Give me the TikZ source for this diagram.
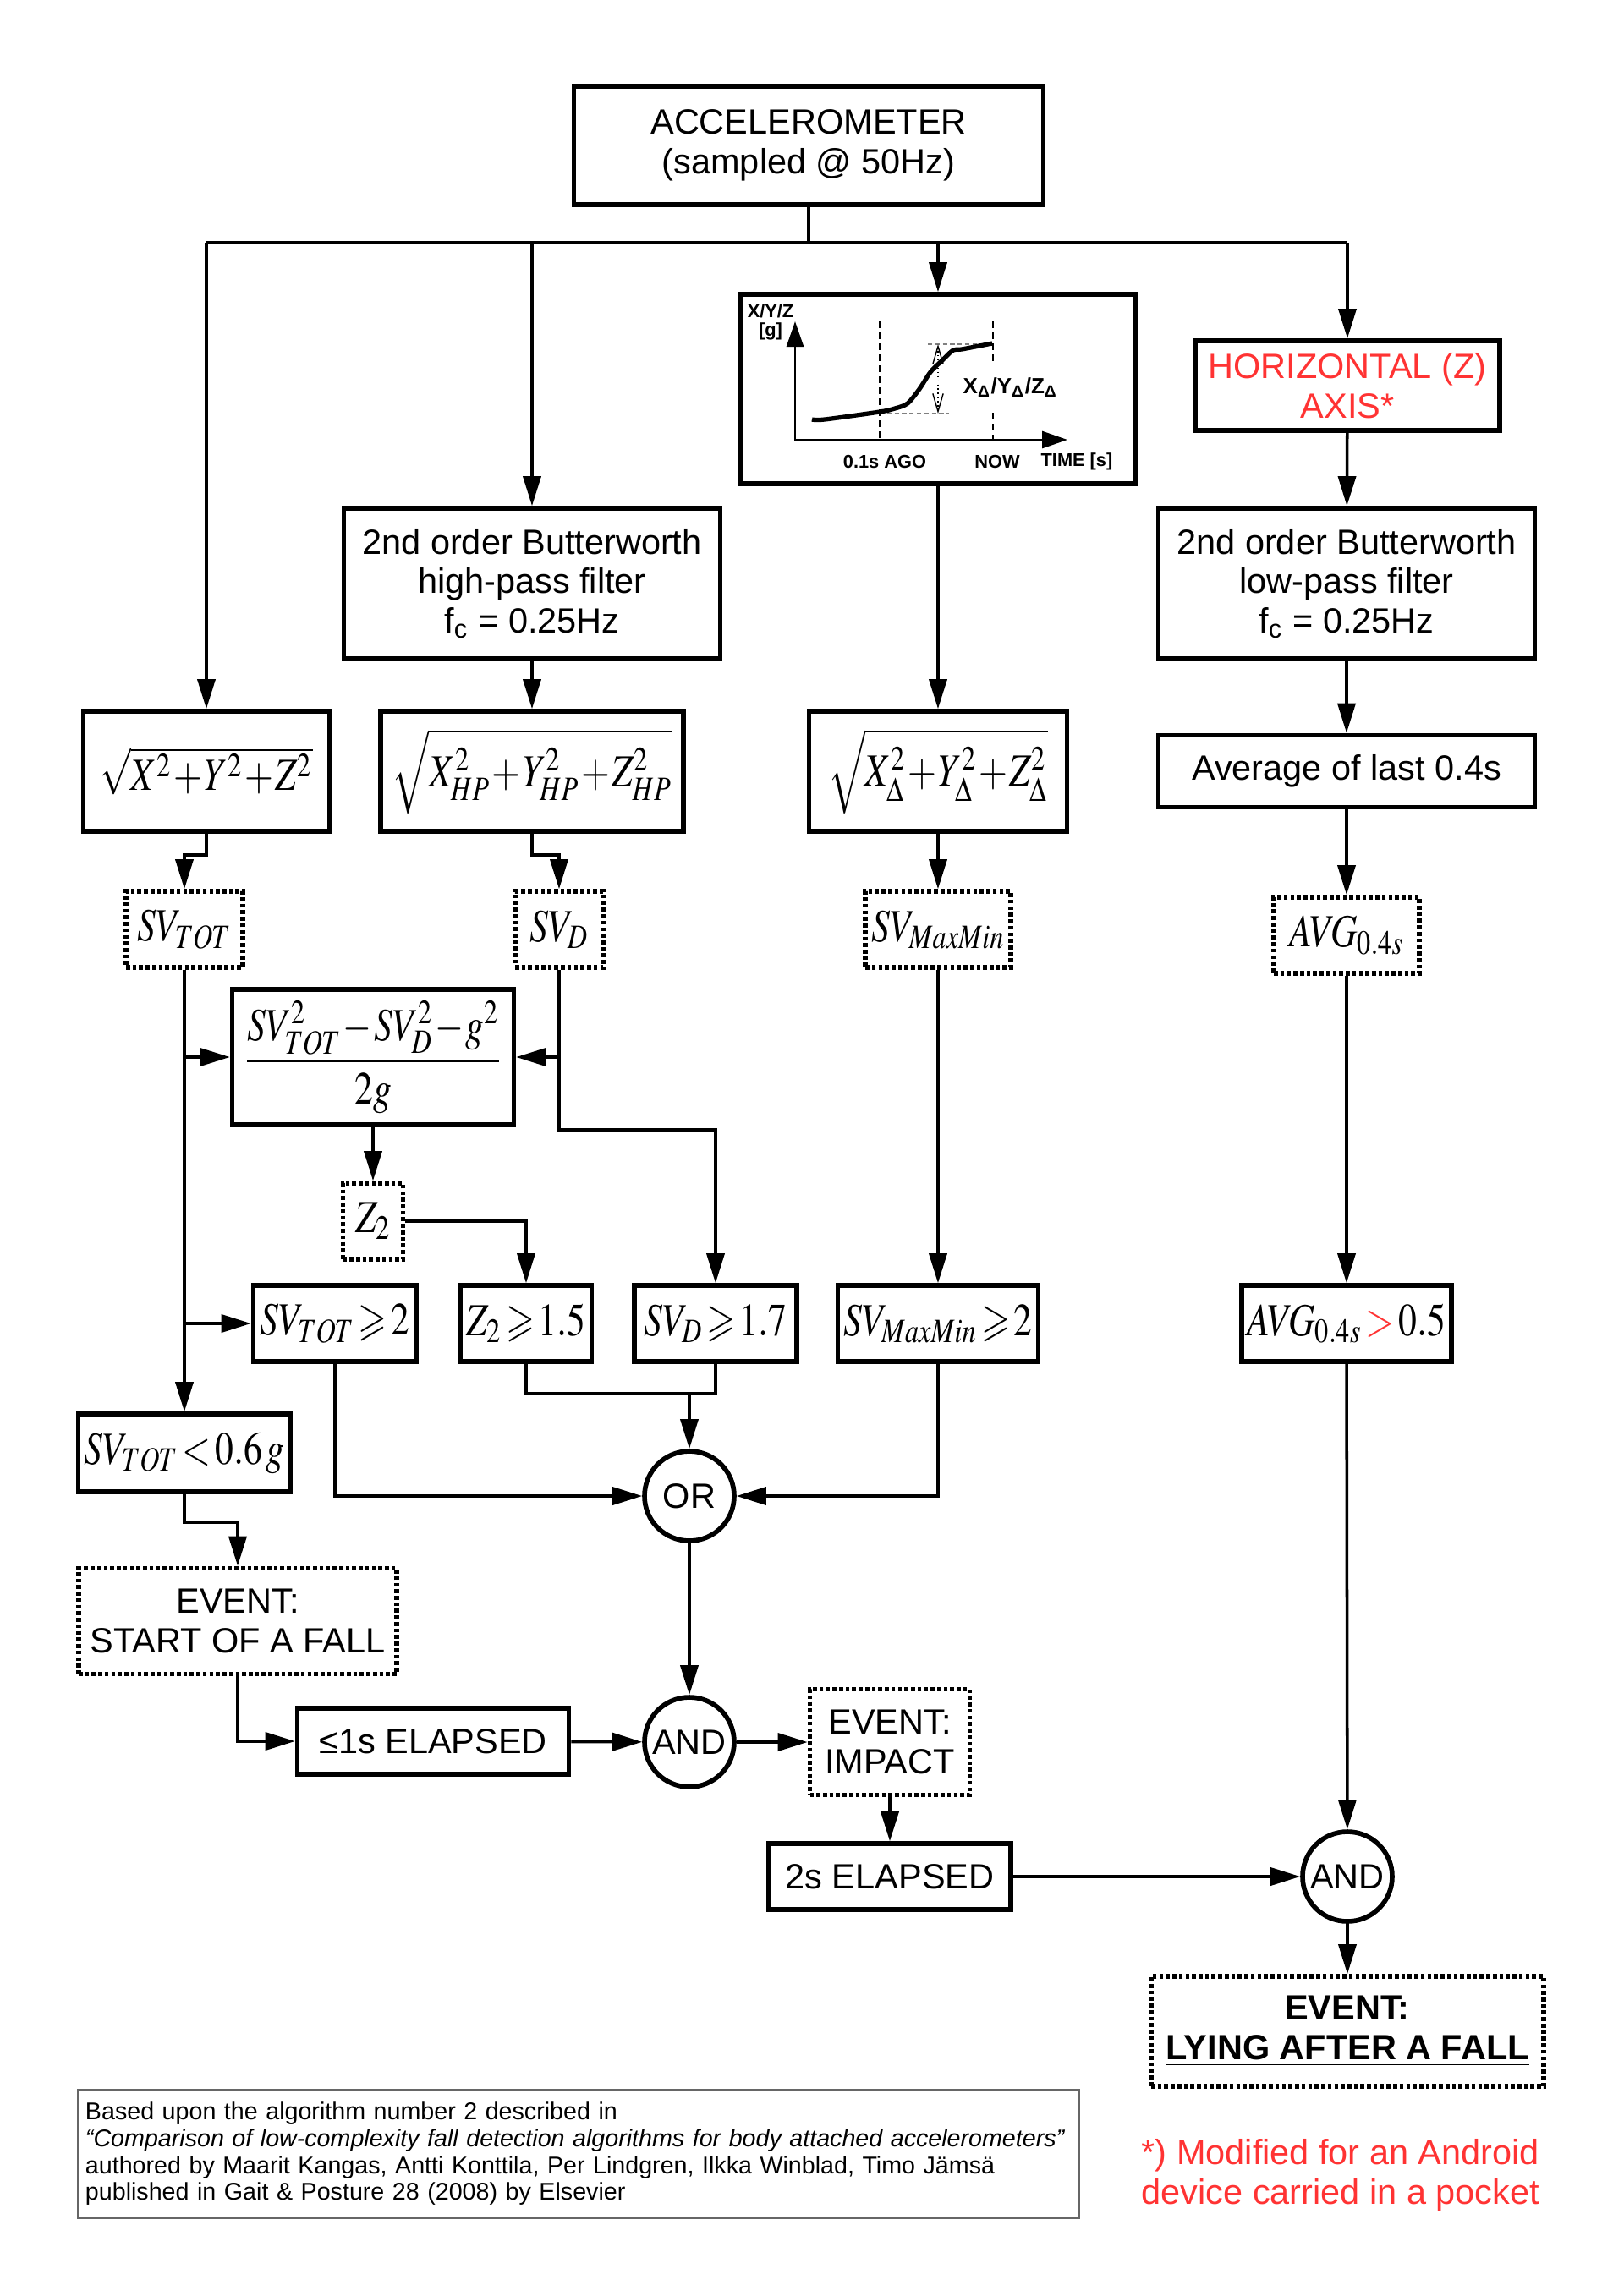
\documentclass[tikz,border=0pt]{standalone}
\usepackage{amsmath,amssymb}
\usepackage{mathptmx}
\usepackage[no-math]{fontspec}
\setmainfont{Liberation Sans}
\usetikzlibrary{arrows.meta,positioning}
\definecolor{alertred}{RGB}{255,51,51}
\newcommand{\narrowmath}[1]{\scalebox{0.8}[1]{\medmuskip=1mu \thickmuskip=2mu #1}}

\begin{document}
\begin{tikzpicture}[
        >={Triangle[length=10pt,width=6pt]},
        every node/.style={font=\fontsize{11.8}{13.3}\selectfont},
        block/.style={draw, line width=1.6pt, align=center, inner sep=2pt},
        var/.style={draw, line width=1.6pt, dash pattern=on 1.3pt off 0.9pt, align=center, inner sep=2pt},
        formula/.style={font=\fontsize{15.5}{18}\selectfont},
        gate/.style={draw, circle, line width=1.6pt, minimum size=1.06cm, inner sep=0pt},
        wire/.style={line width=1pt},
        plotlabel/.style={font=\bfseries\fontsize{6.2}{6.3}\selectfont, inner sep=0pt, align=center}]
        \useasboundingbox (0,0) rectangle (19.2,-27.15);

        \node [block, minimum width=5.55cm, minimum height=1.40cm] (ACC) at (9.56,-1.72) {ACCELEROMETER\\(sampled @ 50Hz)};
        \node [block, minimum width=4.66cm, minimum height=2.24cm] (PLOT) at (11.09,-4.60) {};
        \node [block, minimum width=3.60cm, minimum height=1.06cm, text=alertred] (HZ) at (15.93,-4.56) {HORIZONTAL (Z)\\AXIS*};

        \node [block, minimum width=4.45cm, minimum height=1.78cm] (HP) at (6.29,-6.90) {2nd order Butterworth\\high-pass filter\\f\textsubscript{c} = 0.25Hz};
        \node [block, minimum width=4.45cm, minimum height=1.78cm] (LP) at (15.92,-6.90) {2nd order Butterworth\\low-pass filter\\f\textsubscript{c} = 0.25Hz};

        \node [block, formula, minimum width=2.91cm, minimum height=1.42cm] (S1) at (2.44,-9.12) {\narrowmath{$\sqrt{X^2+Y^2+Z^2}$}};
        \node [block, formula, minimum width=3.58cm, minimum height=1.42cm] (S2) at (6.29,-9.12) {\narrowmath{$\sqrt{X_{HP}^2+Y_{HP}^2+Z_{HP}^2}$}};
        \node [block, formula, minimum width=3.05cm, minimum height=1.42cm] (S3) at (11.09,-9.12) {\narrowmath{$\sqrt{X_{\Delta}^2+Y_{\Delta}^2+Z_{\Delta}^2}$}};
        \node [block, minimum width=4.45cm, minimum height=0.85cm] (AVG) at (15.92,-9.12) {Average of last 0.4s};

        \node [var, formula, minimum width=1.38cm, minimum height=0.90cm] (SVT) at (2.18,-10.99) {\narrowmath{$SV_{TOT}$}};
        \node [var, formula, minimum width=1.04cm, minimum height=0.90cm] (SVD) at (6.61,-10.99) {\narrowmath{$SV_{D}$}};
        \node [var, formula, minimum width=1.71cm, minimum height=0.90cm] (SVM) at (11.09,-10.99) {\narrowmath{$SV_{MaxMin}$}};
        \node [var, formula, minimum width=1.72cm, minimum height=0.90cm] (AVG1) at (15.92,-11.06) {\narrowmath{$\mathit{AVG}_{0.4s}$}};

        \node [block, formula, minimum width=3.33cm, minimum height=1.60cm] (F) at (4.41,-12.50) {\narrowmath{$\dfrac{SV_{TOT}^2-SV_D^2-g^2}{2g}$}};
        \node [var, formula, minimum width=0.71cm, minimum height=0.90cm, inner sep=0pt] (Z2) at (4.41,-14.44) {\narrowmath{$Z_2$}};

        \node [block, formula, minimum width=1.93cm, minimum height=0.90cm] (T2) at (3.96,-15.65) {\narrowmath{$SV_{TOT}\geqslant 2$}};
        \node [block, formula, minimum width=1.55cm, minimum height=0.90cm] (Z15) at (6.22,-15.65) {\narrowmath{$Z_2\geqslant 1.5$}};
        \node [block, formula, minimum width=1.92cm, minimum height=0.90cm] (D17) at (8.46,-15.65) {\narrowmath{$SV_D\geqslant 1.7$}};
        \node [block, formula, minimum width=2.34cm, minimum height=0.90cm] (M2) at (11.09,-15.65) {\narrowmath{$SV_{MaxMin}\geqslant 2$}};
        \node [block, formula, minimum width=2.44cm, minimum height=0.90cm] (A05) at (15.92,-15.65) {\narrowmath{$\mathit{AVG}_{0.4s}\mathrel{\textcolor{alertred}{>}}0.5$}};

        \node [block, formula, minimum width=2.48cm, minimum height=0.92cm] (SVL) at (2.18,-17.18) {\narrowmath{$SV_{TOT}<0.6\,g$}};
        \node [gate] (OR) at (8.15,-17.69) {OR};

        \node [var, minimum width=3.76cm, minimum height=1.25cm] (ES) at (2.81,-19.17) {EVENT:\\START OF A FALL};
        \node [block, minimum width=3.21cm, minimum height=0.78cm] (E1s) at (5.12,-20.59) {≤1s ELAPSED};
        \node [gate] (AND1) at (8.15,-20.60) {AND};
        \node [var, minimum width=1.89cm, minimum height=1.25cm] (EI) at (10.52,-20.60) {EVENT:\\IMPACT};
        \node [block, minimum width=2.86cm, minimum height=0.78cm] (E2s) at (10.52,-22.19) {2s ELAPSED};
        \node [gate] (AND2) at (15.93,-22.19) {AND};
        \node [var, minimum width=4.64cm, minimum height=1.30cm] (EL) at (15.93,-24.02) {\underline{\textbf{EVENT:}}\\\underline{\textbf{LYING AFTER A FALL}}};

        \node [draw=black!60, line width=0.6pt, align=left, text width=11.66cm, inner xsep=0.09cm, minimum height=1.52cm, font=\fontsize{8.15}{9}\selectfont] (REF) at (6.84,-25.47) {Based upon the algorithm number 2 described in\\\mbox{\textit{“Comparison of low-complexity fall detection algorithms for body attached accelerometers”}}\\authored by Maarit Kangas, Antti Konttila, Per Lindgren, Ilkka Winblad, Timo Jämsä\\published in Gait \& Posture 28 (2008) by Elsevier};
        \node [anchor=west, align=left, text=alertred, inner sep=0pt] (NOTE) at (13.49,-25.72) {*) Modified for an Android\\device carried in a pocket};

        % the little plot inside PLOT
        \draw[line width=0.8pt, {Triangle[length=0.3cm,width=0.2cm]}-{Triangle[length=0.3cm,width=0.2cm]}] (9.40,-3.80) -- (9.40,-5.20) -- (12.62,-5.20);
        \draw[line width=0.8pt, dash pattern=on 2.3pt off 1.4pt] (10.40,-3.80) -- (10.40,-5.20) (11.74,-3.80) -- (11.74,-4.32) (11.74,-4.88) -- (11.74,-5.20);
        \draw[gray, line width=0.4pt, dash pattern=on 1.5pt off 1pt] (10.97,-4.07) -- (11.73,-4.07) (10.40,-4.89) -- (11.22,-4.89);
        \draw[line width=0.4pt, densely dotted, {Straight Barb[length=6pt,width=3.5pt]}-{Straight Barb[length=6pt,width=3.5pt]}] (11.09,-4.07) -- (11.09,-4.89);
        \draw[line width=1.5pt] plot[smooth, tension=0.5] coordinates {(9.60,-4.96) (9.75,-4.96) (10.40,-4.87) (10.58,-4.83) (10.73,-4.77) (10.87,-4.60) (11.00,-4.40) (11.13,-4.27) (11.27,-4.14) (11.37,-4.13) (11.73,-4.06)};
        \node [plotlabel] (YLBL) at (9.11,-3.81) {X/Y/Z\\{[g]}};
        \node [plotlabel, anchor=base west, font=\bfseries\fontsize{7.4}{8}\selectfont] (DLBL) at (11.38,-4.65) {X\textsubscript{Δ}/Y\textsubscript{Δ}/Z\textsubscript{Δ}};
        \node [plotlabel] (AGO) at (10.46,-5.46) {0.1s AGO};
        \node [plotlabel] (NOW) at (11.79,-5.46) {NOW};
        \node [plotlabel] (TLBL) at (12.73,-5.46) {TIME [s]};

        % bus from the accelerometer
        \coordinate (BL) at (2.44,-2.87);
        \coordinate (BR) at (15.93,-2.87);
        \draw[wire] (ACC) -- (ACC |- BL);
        \draw[wire] (BL) -- (BR);
        \draw[->, wire] (BL) -- (S1);
        \draw[->, wire] (HP |- BL) -- (HP);
        \draw[->, wire] (PLOT |- BL) -- (PLOT);
        \draw[->, wire] (BR) -- (HZ);

        \draw[->, wire] (HZ) -- (LP);
        \draw[->, wire] (HP) -- (S2);
        \draw[->, wire] (PLOT) -- (S3);
        \draw[->, wire] (LP) -- (AVG);

        \draw[->, wire] (S1.south) -- ++(0,-0.25) -| (SVT.north);
        \draw[->, wire] (S2.south) -- ++(0,-0.25) -| (SVD.north);
        \draw[->, wire] (S3) -- (SVM);
        \draw[->, wire] (AVG) -- (AVG1);

        \draw[->, wire] (SVT) -- (SVL);
        \draw[->, wire] (SVT |- F) -- (F);
        \draw[->, wire] (SVT |- T2) -- (T2);
        \draw[->, wire] (SVD |- F) -- (F);
        \draw[->, wire] (SVD.south) -- ++(0,-1.89) -| (D17.north);
        \draw[->, wire] (F) -- (Z2);
        \draw[->, wire] (Z2.east) -| (Z15.north);
        \draw[->, wire] (SVM) -- (M2);
        \draw[->, wire] (AVG1) -- (A05);

        \coordinate (J) at (8.15,-16.48);
        \draw[wire] (Z15.south) |- (J) -| (D17.south);
        \draw[->, wire] (J) -- (OR);
        \draw[->, wire] (T2.south) |- (OR.west);
        \draw[->, wire] (M2.south) |- (OR.east);

        \draw[->, wire] (SVL.south) -- ++(0,-0.33) -| (ES.north);
        \draw[->, wire] (ES.south) |- (E1s.west);
        \draw[->, wire] (E1s) -- (AND1);
        \draw[->, wire] (OR) -- (AND1);
        \draw[->, wire] (AND1) -- (EI);
        \draw[->, wire] (EI) -- (E2s);
        \draw[->, wire] (E2s) -- (AND2);
        \draw[->, wire] (A05) -- (AND2);
        \draw[->, wire] (AND2) -- (EL);
    \end{tikzpicture}
\end{document}
